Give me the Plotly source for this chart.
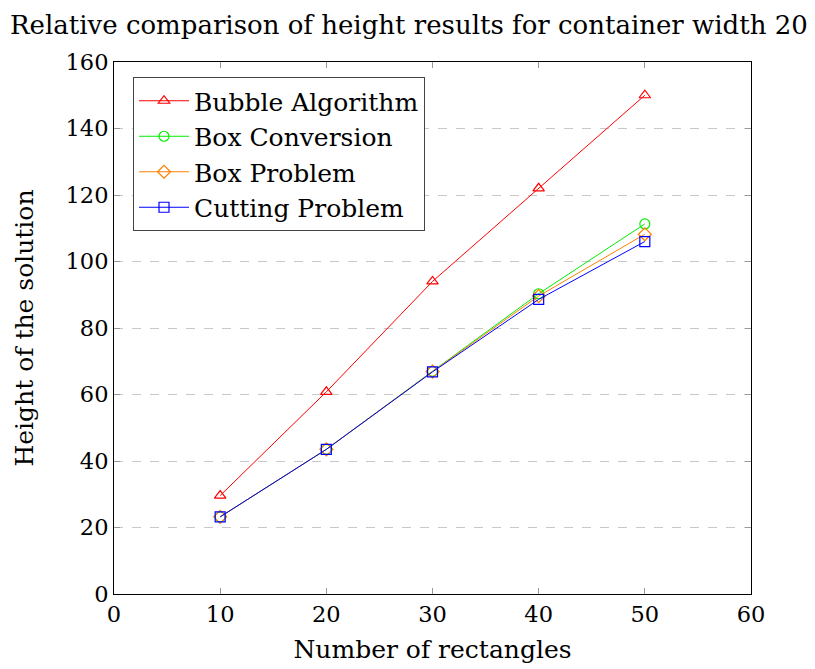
import plotly.graph_objects as go

x_vals = [10, 20, 30, 40, 50]
bubble = [29.6, 60.8, 94.0, 122.0, 150.0]
box_conversion = [23.2, 43.5, 67.0, 90.3, 111.3]
box_problem = [23.2, 43.5, 66.9, 89.6, 108.2]
cutting_problem = [23.2, 43.5, 66.8, 88.6, 106.0]

x_ticks = [0, 10, 20, 30, 40, 50, 60]
y_ticks = [0, 20, 40, 60, 80, 100, 120, 140, 160]

FONT = "DejaVu Serif"
FS = 25
TICK_FS = 22.5
TITLE_FS = 26

series = [
    ("Bubble Algorithm", bubble, "#ff0000", "triangle-up-open"),
    ("Box Conversion", box_conversion, "#00ee00", "circle-open"),
    ("Box Problem", box_problem, "#ff8000", "diamond-open"),
    ("Cutting Problem", cutting_problem, "#0000ff", "square-open"),
]

fig = go.Figure()
for name, ys, color, sym in series:
    fig.add_trace(go.Scatter(
        x=x_vals, y=ys, name=name, mode="lines+markers",
        line=dict(color=color, width=1),
        marker=dict(symbol=sym, size=10, color=color, line=dict(width=1.2, color=color)),
    ))

W, H = 815, 669
L, R, T, B = 114, 64, 62, 75
pw = W - L - R

fig.update_layout(
    width=W, height=H,
    margin=dict(l=L, r=R, t=T, b=B),
    paper_bgcolor="white", plot_bgcolor="white",
    font=dict(family=FONT, size=FS, color="black"),
    showlegend=True,
    legend=dict(
        x=(133 - L) / pw, y=1 - (77 - T) / (H - T - B),
        xanchor="left", yanchor="top",
        bgcolor="white", bordercolor="#444444", borderwidth=1,
        font=dict(family=FONT, size=FS),
        itemwidth=50, tracegroupgap=0,
    ),
    annotations=[dict(
        text="Relative comparison of height results for container width 20",
        x=(409 - L) / pw, xref="paper", y=1, yref="paper",
        yshift=37, xanchor="center", yanchor="middle", showarrow=False,
        font=dict(family=FONT, size=TITLE_FS, color="black"),
    )],
)

fig.update_xaxes(
    range=[0, 60], tickvals=x_ticks, ticktext=[str(v) for v in x_ticks],
    ticks="inside", ticklen=6, tickcolor="#999999", tickwidth=1,
    showline=True, linecolor="black", linewidth=1, mirror="allticks",
    showgrid=False, zeroline=False, automargin=False,
    title=dict(text="Number of rectangles", font=dict(family=FONT, size=FS), standoff=14),
    tickfont=dict(family=FONT, size=TICK_FS),
)
fig.update_yaxes(
    range=[0, 160], tickvals=y_ticks, ticktext=[str(v) for v in y_ticks],
    ticks="inside", ticklen=6, tickcolor="#999999", tickwidth=1,
    showline=True, linecolor="black", linewidth=1, mirror="allticks",
    showgrid=True, gridcolor="#c8c8c8", griddash="dash", gridwidth=1,
    zeroline=False, automargin=False,
    title=dict(text="Height of the solution", font=dict(family=FONT, size=FS), standoff=24),
    tickfont=dict(family=FONT, size=TICK_FS),
)

fig.write_html("out.html")
